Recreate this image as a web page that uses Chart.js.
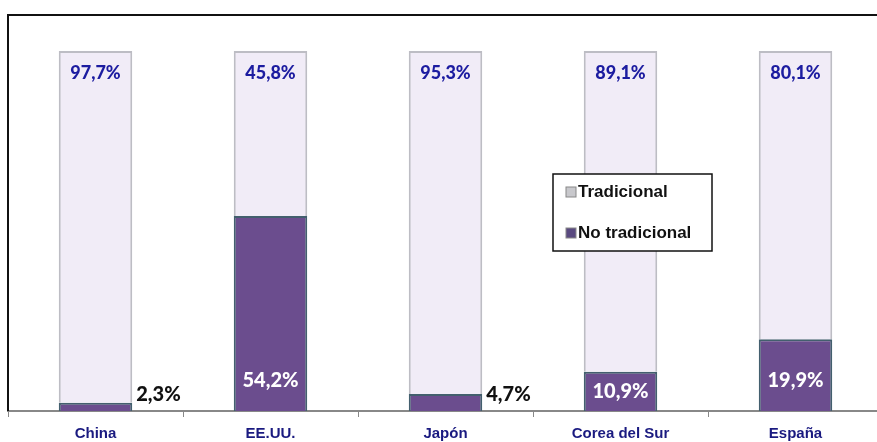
<!DOCTYPE html>
<html>
<head>
<meta charset="utf-8">
<script src="https://cdn.jsdelivr.net/npm/chart.js@4.4.1/dist/chart.umd.min.js"></script>
<style>
  html, body { margin: 0; padding: 0; background: #fff; overflow: hidden; }
  #wrap { width: 884px; height: 451px; position: relative; }
</style>
</head>
<body>
<div id="wrap"><canvas id="grafico"></canvas></div>
<script>
// datos del grafico
const paises = ['China', 'EE.UU.', 'Japón', 'Corea del Sur', 'España'];
const noTradicional = [2.3, 54.2, 4.7, 10.9, 19.9];
const tradicional = [97.7, 45.8, 95.3, 89.1, 80.1];

const fuenteNarrow = "'Liberation Sans Narrow', 'Arial Narrow', 'Liberation Sans', sans-serif";
const fuenteValor = "Lato, 'Open Sans', sans-serif";

function formatoPct(v) {
    return v.toFixed(1).replace('.', ',') + '%';
}

// ==================== MARCO (linea superior e izquierda) ====================
const marco = {
    id: 'marco',
    afterDraw(chart) {
        const a = chart.chartArea;
        const ctx = chart.ctx;
        ctx.save();
        ctx.strokeStyle = '#111';
        ctx.lineWidth = 2;
        ctx.beginPath();
        ctx.moveTo(chart.width, a.top);
        ctx.lineTo(a.left, a.top);
        ctx.lineTo(a.left, a.bottom);
        ctx.stroke();
        ctx.restore();
    }
};

// ==================== ETIQUETAS DE VALOR ====================
const etiquetas = {
    id: 'etiquetas',
    afterDatasetsDraw(chart) {
        const ctx = chart.ctx;
        ctx.save();
        ctx.textBaseline = 'middle';
        // No tradicional (dataset 0)
        chart.getDatasetMeta(0).data.forEach((bar, i) => {
            const v = noTradicional[i];
            const h = bar.base - bar.y;
            if (v < 5) {
                ctx.font = '900 20px ' + fuenteValor;
                ctx.fillStyle = '#111';
                ctx.textAlign = 'left';
                ctx.fillText(formatoPct(v), bar.x + bar.width / 2 + 4, bar.base - 16);
            } else {
                ctx.font = '900 20px ' + fuenteValor;
                ctx.fillStyle = '#ffffff';
                ctx.textAlign = 'center';
                ctx.fillText(formatoPct(v), bar.x, bar.base - Math.min(h / 2, 30));
            }
        });
        // Tradicional (dataset 1)
        chart.getDatasetMeta(1).data.forEach((bar, i) => {
            ctx.font = '900 18px ' + fuenteValor;
            ctx.fillStyle = '#1c1ca0';
            ctx.textAlign = 'center';
            ctx.fillText(formatoPct(tradicional[i]), bar.x, bar.y + 22);
        });
        ctx.restore();
    }
};

// ==================== LEYENDA DENTRO DEL AREA ====================
const leyenda = {
    id: 'leyenda',
    afterDraw(chart) {
        const ctx = chart.ctx;
        const x = 553, y = 174, w = 159, h = 77;
        ctx.save();
        ctx.fillStyle = '#fff';
        ctx.fillRect(x, y, w, h);
        ctx.strokeStyle = '#111';
        ctx.lineWidth = 1.5;
        ctx.strokeRect(x, y, w, h);
        ctx.textBaseline = 'middle';
        ctx.textAlign = 'left';
        const items = [chart.data.datasets[1], chart.data.datasets[0]];
        items.forEach((ds, k) => {
            const cy = y + 18 + k * 41;
            ctx.fillStyle = ds.legendColor;
            ctx.fillRect(x + 13, cy - 5, 10, 10);
            ctx.strokeStyle = '#888';
            ctx.lineWidth = 1;
            ctx.strokeRect(x + 13, cy - 5, 10, 10);
            ctx.fillStyle = '#111';
            ctx.font = 'bold 17px ' + fuenteNarrow;
            ctx.fillText(ds.label, x + 25, cy);
        });
        ctx.restore();
    }
};

const ctx = document.getElementById('grafico');
new Chart(ctx, {
    type: 'bar',
    data: {
        labels: paises,
        datasets: [{
            label: 'No tradicional',
            data: noTradicional,
            backgroundColor: '#6b4d8e',
            borderColor: '#435f6e',
            borderWidth: 2,
            legendColor: '#5a4a80',
            barPercentage: 0.42,
            categoryPercentage: 1
        }, {
            label: 'Tradicional',
            data: tradicional,
            backgroundColor: '#f1ecf7',
            borderColor: '#bdbdc4',
            borderWidth: 2,
            legendColor: '#c8c8cc',
            barPercentage: 0.42,
            categoryPercentage: 1
        }]
    },
    options: {
        responsive: true,
        maintainAspectRatio: false,
        animation: false,
        layout: { padding: { left: 8, top: 15, right: 1, bottom: 0 } },
        plugins: {
            legend: { display: false },
            tooltip: { enabled: false }
        },
        scales: {
            x: {
                stacked: true,
                offset: true,
                grid: {
                    offset: true,
                    drawOnChartArea: false,
                    drawTicks: true,
                    tickLength: 6,
                    color: '#888'
                },
                border: { color: '#888', width: 2 },
                ticks: {
                    padding: 8,
                    color: '#1a1a80',
                    font: { family: fuenteNarrow, size: 15, weight: 'bold' }
                }
            },
            y: {
                stacked: true,
                display: false,
                min: 0,
                max: 110
            }
        }
    },
    plugins: [marco, etiquetas, leyenda]
});
</script>
</body>
</html>
